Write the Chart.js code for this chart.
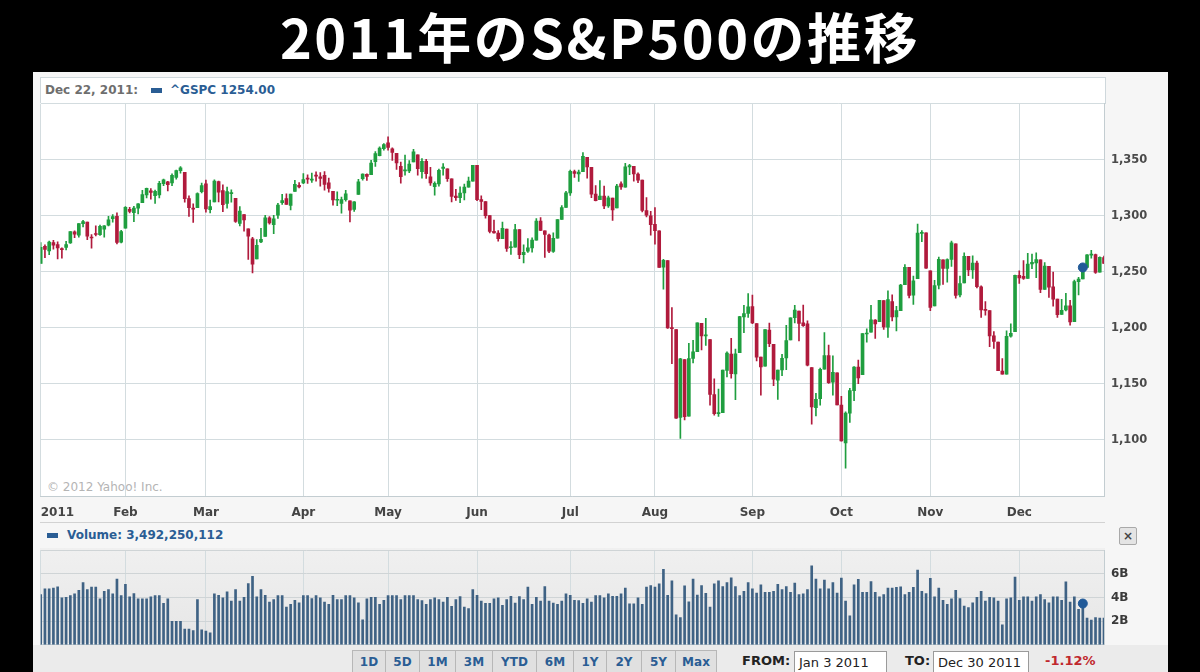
<!DOCTYPE html>
<html>
<head>
<meta charset="utf-8">
<script src="https://cdn.jsdelivr.net/npm/chart.js@4.4.0/dist/chart.umd.min.js"></script>
<style>
  html, body { margin: 0; padding: 0; background: #000; }
  body { width: 1200px; height: 672px; position: relative; overflow: hidden; font-family: "DejaVu Sans", sans-serif; }
  .abs { position: absolute; }
  #title { left: 0; top: 4px; width: 1200px; text-align: center; color: #fff; font-family: "Noto Sans CJK JP", sans-serif; font-weight: 700; font-size: 54px; letter-spacing: 2.5px; line-height: 64px; }
  #panel { left: 33px; top: 72px; width: 1135px; height: 600px; background: #f6f6f6; }
  #head { left: 40px; top: 77px; width: 1064px; height: 26px; background: #fff; border: 1px solid #cfd8dc; border-bottom: none; }
  #plotbg { left: 40px; top: 103px; width: 1065px; height: 394px; background: #fff; }
  #volbg { left: 40px; top: 548px; width: 1065px; height: 95px; background: linear-gradient(#f0f0f0, #e6e6e6); }
  .lbl { font-size: 12px; font-weight: bold; white-space: nowrap; }
  .key { width: 11px; height: 5px; background: #2a5d94; }
  #sep { left: 40px; top: 522px; width: 1065px; height: 1px; background: #d2d2d2; }
  #close { left: 1119px; top: 527px; width: 16px; height: 16px; border: 1px solid #a9a9a9; border-radius: 2px; background: #e4e4e4; color: #444; font-size: 12px; line-height: 16px; text-align: center; font-weight: bold; }
  #bar { left: 33px; top: 645px; width: 1135px; height: 27px; background: #ebebeb; }
  .btn { top: 650px; height: 24px; background: #e0e0e0; border: 1px solid #b7b7b7; box-sizing: border-box; color: #2a5d94; font-size: 12px; font-weight: bold; text-align: center; line-height: 22px; }
  .box { top: 651px; height: 24px; border: 1px solid #9a9a9a; background: #fff; box-sizing: border-box; font-size: 13px; color: #222; padding-left: 4px; line-height: 21px; }
</style>
</head>
<body>
<div id="title" class="abs">2011年のS&amp;P500の推移</div>
<div id="panel" class="abs"></div>
<div id="head" class="abs"></div>
<div id="plotbg" class="abs"></div>
<div id="volbg" class="abs"></div>
<div class="abs lbl" style="left:45px;top:83px;color:#6e6e6e;">Dec 22, 2011:</div>
<div class="abs key" style="left:151px;top:88px;"></div>
<div class="abs lbl" style="left:170px;top:83px;color:#2a5d94;">^GSPC 1254.00</div>
<div class="abs" style="left:47px;top:480px;font-size:12px;color:#b4b4b4;">© 2012 Yahoo! Inc.</div>
<div id="sep" class="abs"></div>
<div class="abs key" style="left:47px;top:533px;"></div>
<div class="abs lbl" style="left:67px;top:528px;color:#2a5d94;">Volume: 3,492,250,112</div>
<div id="close" class="abs">×</div>
<div id="bar" class="abs"></div>
<div class="abs btn" style="left:352px;width:34px;">1D</div>
<div class="abs btn" style="left:385px;width:35px;">5D</div>
<div class="abs btn" style="left:419px;width:37px;">1M</div>
<div class="abs btn" style="left:455px;width:38px;">3M</div>
<div class="abs btn" style="left:492px;width:45px;">YTD</div>
<div class="abs btn" style="left:536px;width:38px;">6M</div>
<div class="abs btn" style="left:573px;width:34px;">1Y</div>
<div class="abs btn" style="left:606px;width:36px;">2Y</div>
<div class="abs btn" style="left:641px;width:35px;">5Y</div>
<div class="abs btn" style="left:675px;width:42px;">Max</div>
<div class="abs" style="left:742px;top:653px;font-size:13px;font-weight:bold;color:#222;">FROM:</div>
<div class="abs box" style="left:794px;width:93px;">Jan 3 2011</div>
<div class="abs" style="left:905px;top:653px;font-size:13px;font-weight:bold;color:#222;">TO:</div>
<div class="abs box" style="left:933px;width:96px;">Dec 30 2011</div>
<div class="abs" style="left:1045px;top:653px;font-size:13px;font-weight:bold;color:#c0282d;">-1.12%</div>

<canvas id="mainChart" class="abs" width="1140" height="434" style="left:30px;top:90px;"></canvas>
<canvas id="volChart" class="abs" width="1140" height="123" style="left:30px;top:536px;"></canvas>

<script>
// trading days of 2011, one list per month
const monthNames = ['Jan','Feb','Mar','Apr','May','Jun','Jul','Aug','Sep','Oct','Nov','Dec'];
const monthTicks = ['2011','Feb','Mar','Apr','May','Jun','Jul','Aug','Sep','Oct','Nov','Dec'];
const tradingDays = [
    [3,4,5,6,7,10,11,12,13,14,18,19,20,21,24,25,26,27,28,31],
    [1,2,3,4,7,8,9,10,11,14,15,16,17,18,22,23,24,25,28],
    [1,2,3,4,7,8,9,10,11,14,15,16,17,18,21,22,23,24,25,28,29,30,31],
    [1,4,5,6,7,8,11,12,13,14,15,18,19,20,21,25,26,27,28,29],
    [2,3,4,5,6,9,10,11,12,13,16,17,18,19,20,23,24,25,26,27,31],
    [1,2,3,6,7,8,9,10,13,14,15,16,17,20,21,22,23,24,27,28,29,30],
    [1,5,6,7,8,11,12,13,14,15,18,19,20,21,22,25,26,27,28,29],
    [1,2,3,4,5,8,9,10,11,12,15,16,17,18,19,22,23,24,25,26,29,30,31],
    [1,2,6,7,8,9,12,13,14,15,16,19,20,21,22,23,26,27,28,29,30],
    [3,4,5,6,7,10,11,12,13,14,17,18,19,20,21,24,25,26,27,28,31],
    [1,2,3,4,7,8,9,10,11,14,15,16,17,18,21,22,23,25,28,29,30],
    [1,2,5,6,7,8,9,12,13,14,15,16,19,20,21,22,23,27,28,29,30]
];

const priceOpen = [
    1257.6,1272.9,1268.8,1276.3,1274.4,1270.8,1272.0,1276.0,1285.8,1282.9,
    1293.2,1294.5,1280.9,1283.6,1283.3,1288.2,1291.7,1297.5,1299.6,1276.5,
    1289.1,1305.9,1302.8,1307.0,1311.9,1318.8,1322.5,1318.1,1318.7,1328.7,
    1330.4,1329.5,1334.4,1340.4,1338.9,1315.4,1307.1,1307.3,1321.6,
    1328.6,1305.5,1312.4,1330.7,1322.7,1311.1,1319.9,1315.7,1293.4,1301.2,
    1288.5,1279.5,1261.6,1276.7,1281.7,1298.3,1292.2,1300.6,1311.8,1315.5,
    1309.4,1321.9,1327.4,
    1329.5,1333.6,1332.0,1335.9,1334.8,1336.2,1329.6,1321.9,1314.0,1311.1,
    1314.5,1313.4,1305.9,1319.1,1333.2,1337.1,1336.8,1348.4,1353.9,1360.1,
    1365.2,1359.8,1355.9,1344.2,1340.2,1340.2,1348.3,1354.5,1339.4,1348.7,
    1334.8,1326.1,1328.5,1342.4,1342.0,1333.1,1317.7,1316.4,1320.6,1325.7,
    1331.1,
    1345.2,1314.6,1312.9,1300.3,1286.3,1284.6,1279.6,1288.3,1271.6,1272.2,
    1287.9,1265.5,1268.6,1271.5,1278.4,1295.5,1286.6,1283.0,1268.4,1280.2,
    1296.8,1307.6,
    1320.6,1339.6,1337.6,1339.6,1352.4,1343.3,1319.6,1314.5,1317.7,1308.9,
    1315.9,1307.1,1328.7,1325.7,1343.8,1344.3,1337.4,1331.9,1304.8,1300.1,
    1292.6,1286.6,1254.3,1260.2,1200.3,1198.5,1120.2,1171.8,1121.3,1172.9,
    1178.9,1204.2,1192.9,1189.6,1140.5,1123.6,1124.4,1162.2,1176.7,1158.9,
    1177.9,1209.8,1213.0,
    1219.1,1203.9,1174.0,1165.9,1198.0,1185.4,1153.5,1162.6,1173.3,1189.4,
    1209.2,1215.0,1204.5,1203.6,1164.6,1128.8,1136.9,1163.3,1175.4,1151.7,
    1159.9,
    1131.2,1097.4,1124.0,1144.1,1165.0,1158.2,1194.6,1196.2,1207.0,1205.7,
    1224.5,1200.8,1223.5,1209.9,1215.4,1238.7,1254.2,1229.2,1244.0,1284.4,
    1285.0,
    1251.0,1219.6,1238.3,1260.8,1253.2,1261.1,1275.2,1229.6,1240.1,1263.9,
    1251.7,1257.8,1236.6,1216.2,1215.6,1193.0,1187.5,1161.4,1158.7,1192.6,
    1196.7,
    1246.9,1246.0,1244.3,1257.2,1258.1,1260.9,1234.5,1255.1,1236.8,1225.7,
    1212.1,1216.1,1219.7,1205.7,1241.3,1243.7,1254.0,1265.0,1265.4,1249.8,
    1262.8
];

const priceHigh = [
    1276.2,1274.1,1277.6,1278.2,1276.8,1271.5,1277.3,1286.0,1286.7,1293.2,
    1296.1,1294.6,1283.4,1291.2,1291.9,1291.3,1299.7,1301.3,1302.7,1287.2,
    1308.4,1307.6,1308.6,1311.0,1322.9,1324.9,1324.5,1323.0,1330.8,1332.9,
    1330.8,1337.6,1341.0,1344.1,1338.9,1317.9,1310.9,1320.6,1329.4,
    1332.1,1314.2,1332.3,1331.1,1327.7,1325.7,1323.2,1315.7,1308.4,1301.2,
    1288.5,1280.9,1278.9,1288.9,1300.6,1299.4,1300.5,1311.3,1319.2,1319.7,
    1319.4,1331.7,1329.8,
    1337.9,1336.7,1338.2,1339.4,1338.8,1339.5,1333.8,1321.9,1321.4,1316.8,
    1322.9,1313.4,1312.7,1332.7,1337.5,1337.6,1349.6,1357.5,1361.7,1364.6,
    1370.6,1360.8,1355.9,1348.0,1354.4,1349.4,1359.4,1354.5,1351.1,1350.5,
    1343.3,1330.4,1341.8,1346.8,1342.0,1333.1,1323.7,1325.9,1328.5,1334.6,
    1345.2,
    1345.2,1318.0,1312.9,1300.3,1296.2,1287.0,1294.5,1288.3,1277.0,1292.5,
    1287.9,1274.1,1279.8,1280.4,1297.6,1298.6,1286.6,1283.9,1284.9,1296.8,
    1309.2,1322.0,
    1341.0,1340.9,1340.9,1356.5,1352.4,1343.3,1327.2,1331.5,1326.7,1317.7,
    1315.9,1328.1,1330.4,1347.0,1346.1,1344.3,1338.5,1331.9,1316.3,1304.0,
    1307.4,1286.6,1261.2,1260.2,1218.1,1198.5,1172.9,1171.8,1186.3,1189.0,
    1204.5,1204.2,1208.5,1189.6,1154.5,1145.5,1162.4,1178.6,1190.7,1181.2,
    1210.3,1220.1,1230.7,
    1229.3,1203.9,1174.0,1198.6,1204.4,1185.4,1162.5,1176.4,1202.4,1209.1,
    1220.1,1215.0,1220.4,1206.3,1164.6,1141.7,1164.2,1195.9,1184.7,1175.1,
    1159.9,
    1139.0,1125.1,1146.1,1165.6,1171.4,1194.9,1199.2,1220.3,1207.5,1224.6,
    1224.5,1233.1,1229.6,1219.4,1239.0,1256.6,1254.2,1246.3,1292.7,1287.0,
    1285.0,
    1251.0,1242.5,1263.2,1260.8,1261.7,1277.6,1275.2,1246.2,1267.0,1263.9,
    1264.3,1259.6,1237.7,1223.5,1215.6,1196.8,1187.5,1172.7,1197.4,1203.7,
    1247.1,
    1251.1,1260.1,1266.7,1266.0,1267.1,1260.9,1258.3,1255.1,1249.9,1225.7,
    1225.6,1231.0,1224.6,1242.8,1245.1,1255.2,1265.4,1269.4,1265.9,1263.5,
    1264.1
];

const priceLow = [
    1257.6,1262.7,1265.4,1270.4,1261.7,1262.2,1269.6,1275.4,1280.5,1281.1,
    1290.2,1278.9,1271.3,1282.1,1282.5,1281.1,1291.0,1294.4,1275.1,1276.0,
    1289.1,1302.6,1294.8,1301.7,1311.9,1316.0,1314.9,1311.1,1316.1,1326.9,
    1322.3,1326.9,1332.9,1338.1,1312.3,1299.6,1294.3,1307.3,1320.6,
    1303.4,1302.6,1312.4,1312.6,1303.9,1306.9,1312.3,1294.2,1291.0,1286.4,
    1261.1,1249.1,1261.6,1276.2,1281.7,1292.7,1284.1,1297.7,1310.2,1310.2,
    1305.3,1321.9,1325.0,
    1328.9,1329.1,1330.0,1331.1,1326.6,1322.9,1321.1,1309.5,1309.2,1302.4,
    1313.1,1294.7,1304.0,1319.1,1332.0,1331.7,1336.8,1344.3,1353.6,1358.7,
    1358.6,1349.5,1341.5,1329.2,1336.4,1338.6,1348.3,1336.4,1333.6,1333.4,
    1327.3,1318.5,1326.6,1336.4,1330.7,1312.6,1313.9,1311.8,1314.4,1325.7,
    1331.1,
    1313.7,1305.6,1297.9,1284.9,1284.7,1277.4,1279.6,1268.3,1265.6,1272.2,
    1261.9,1258.1,1267.4,1267.6,1278.4,1286.8,1262.9,1267.2,1267.5,1280.2,
    1296.8,1307.6,
    1318.2,1334.3,1330.9,1339.6,1333.7,1316.4,1313.3,1314.5,1306.5,1307.5,
    1295.9,1307.1,1323.7,1325.7,1336.9,1331.1,1329.6,1303.5,1299.2,1282.9,
    1274.7,1254.0,1234.6,1199.5,1168.1,1119.3,1101.5,1118.0,1121.3,1168.7,
    1178.9,1180.5,1184.5,1131.0,1122.1,1121.1,1124.4,1156.3,1155.1,1135.9,
    1177.9,1195.8,1209.4,
    1203.9,1170.6,1140.1,1165.9,1183.3,1148.4,1136.1,1157.4,1162.7,1189.4,
    1204.5,1188.4,1201.3,1166.2,1114.2,1121.4,1131.1,1163.3,1150.4,1139.9,
    1131.3,
    1098.9,1074.8,1115.7,1135.0,1150.3,1158.2,1187.3,1196.2,1190.6,1205.7,
    1198.6,1191.5,1206.3,1197.3,1215.4,1238.7,1226.8,1221.1,1244.0,1277.0,
    1253.2,
    1215.4,1219.6,1234.8,1238.9,1240.8,1255.0,1226.6,1227.7,1240.1,1246.7,
    1244.3,1235.7,1209.4,1211.4,1183.2,1181.7,1161.8,1158.7,1158.7,1191.8,
    1196.7,
    1239.7,1243.4,1244.3,1253.0,1244.8,1231.5,1234.5,1227.3,1219.4,1209.5,
    1212.1,1215.2,1202.4,1205.7,1229.5,1243.7,1254.0,1262.3,1248.6,1249.8,
    1257.5
];

const priceClose = [
    1271.9,1270.2,1276.6,1273.9,1271.5,1269.8,1274.5,1286.0,1283.8,1293.2,
    1295.0,1281.9,1280.3,1283.4,1290.8,1291.2,1296.6,1299.5,1276.3,1286.1,
    1307.6,1304.0,1307.1,1310.9,1319.1,1324.6,1320.9,1321.9,1329.2,1332.3,
    1328.0,1336.3,1340.4,1343.0,1315.4,1307.4,1306.1,1319.9,1327.2,
    1306.3,1308.4,1331.0,1321.2,1310.1,1321.8,1320.0,1295.1,1304.3,1296.4,
    1281.9,1256.9,1273.7,1279.2,1298.4,1293.8,1297.5,1309.7,1313.8,1310.2,
    1319.4,1328.3,1325.8,
    1332.4,1332.9,1332.6,1335.5,1333.5,1328.2,1324.5,1314.2,1314.4,1314.5,
    1319.7,1305.1,1312.6,1330.4,1337.4,1335.3,1347.2,1355.7,1360.5,1363.6,
    1361.2,1356.6,1347.3,1335.1,1340.2,1346.3,1357.2,1342.1,1348.7,1337.8,
    1329.5,1329.0,1340.7,1343.6,1333.3,1317.4,1316.3,1320.5,1325.7,1331.1,
    1345.2,
    1314.6,1312.9,1300.2,1286.2,1284.9,1279.6,1289.0,1271.0,1271.8,1287.9,
    1265.4,1267.6,1271.5,1278.4,1295.5,1287.1,1283.5,1268.5,1280.1,1296.7,
    1307.4,1320.6,
    1339.7,1337.9,1339.2,1353.2,1343.8,1319.5,1313.6,1317.7,1308.9,1316.1,
    1305.4,1326.7,1325.8,1343.8,1345.0,1337.4,1331.9,1304.9,1300.7,1292.3,
    1286.9,1254.1,1260.3,1200.1,1199.4,1119.5,1172.5,1120.8,1172.6,1178.8,
    1204.5,1192.8,1193.9,1140.7,1123.5,1123.8,1162.4,1177.6,1159.3,1176.8,
    1210.1,1212.9,1218.9,
    1204.4,1174.0,1165.2,1198.6,1185.9,1154.2,1162.3,1172.9,1188.7,1209.1,
    1216.0,1204.1,1202.1,1166.8,1129.6,1136.4,1163.0,1175.4,1151.1,1160.4,
    1131.4,
    1099.2,1124.0,1144.0,1165.0,1155.5,1194.9,1195.5,1207.3,1203.7,1224.6,
    1200.9,1225.4,1209.9,1215.4,1238.3,1254.2,1229.1,1242.0,1284.6,1285.1,
    1253.3,
    1218.3,1237.9,1261.2,1253.2,1261.1,1275.9,1229.1,1239.7,1263.9,1251.8,
    1257.8,1236.9,1216.1,1215.7,1193.0,1188.0,1161.8,1158.7,1192.6,1195.2,
    1247.0,
    1244.6,1244.3,1257.1,1258.5,1261.0,1234.4,1255.2,1236.5,1225.7,1211.8,
    1215.8,1219.7,1205.4,1241.3,1243.7,1254.0,1265.3,1265.4,1249.6,1263.0,
    1257.6
];

// daily volume, billions of shares
const volume = [
    4.24,4.74,4.74,4.79,4.90,3.97,4.02,4.16,4.30,4.60,
    5.26,4.68,4.88,4.88,3.88,4.52,4.68,4.30,5.56,4.16,
    5.12,4.05,4.33,3.88,3.88,3.88,4.05,4.16,4.16,3.50,
    3.88,1.98,1.98,1.98,1.32,1.32,1.21,3.83,1.27,1.16,
    1.02,4.30,4.19,3.97,4.49,3.69,4.68,3.69,4.02,5.18,
    5.79,4.05,4.66,4.19,3.61,3.83,4.16,4.16,3.20,3.42,
    3.77,3.55,4.16,4.16,3.91,4.16,3.97,3.61,3.42,4.19,
    3.83,3.83,4.16,4.16,3.97,3.55,2.12,3.88,4.02,4.02,
    3.42,3.77,4.16,4.16,4.16,3.83,4.16,4.16,4.16,3.83,
    3.75,3.42,3.83,3.97,3.83,3.61,4.02,3.25,3.83,4.08,
    3.20,3.06,4.68,4.19,3.69,3.50,3.50,3.88,3.97,3.33,
    3.83,4.10,3.53,4.08,3.83,4.88,3.42,4.02,3.69,4.93,
    3.69,3.53,3.42,3.69,4.30,4.19,3.77,3.75,3.50,3.88,
    3.61,4.16,4.16,3.97,4.30,4.10,4.10,4.30,4.79,3.47,
    3.47,3.97,3.42,4.88,5.01,4.88,5.15,6.39,4.19,5.40,
    2.53,2.31,4.99,3.64,5.56,4.21,5.01,4.35,3.20,5.15,
    5.40,4.93,5.26,5.67,4.93,4.16,4.52,5.26,4.74,4.38,
    5.07,4.44,4.44,4.52,5.12,4.66,4.93,4.44,5.21,4.24,
    4.30,4.66,6.67,5.56,4.74,5.48,4.74,5.26,4.38,5.65,
    3.69,2.45,5.07,5.54,4.44,4.44,5.34,4.44,4.05,4.24,
    4.79,4.79,4.85,4.90,4.24,4.44,4.85,6.31,4.52,4.33,
    5.62,4.05,4.79,3.77,3.42,3.88,4.60,3.91,3.28,3.14,
    3.55,4.02,4.52,3.69,4.02,3.97,3.69,1.68,3.88,3.97,
    5.73,3.77,4.05,4.05,3.69,4.05,4.24,3.83,3.55,4.05,
    4.05,3.77,5.32,3.61,4.05,3.00,3.49,2.26,2.09,2.31,
    2.26,2.26
];

const markIndex = 246; // Dec 22, 2011

const upColor = '#1f9e3f';
const downColor = '#b01a3c';
const gridColor = '#d3dcdf';
const borderColor = '#c3cdd1';
const tickFont = { family: 'DejaVu Sans', weight: 'bold', size: 12 };

const labels = [];
const tickText = [];
tradingDays.forEach(function(days, m) {
    days.forEach(function(d, k) {
        labels.push(monthNames[m] + ' ' + d);
        tickText.push(k === 0 ? monthTicks[m] : '');
    });
});

const candleColors = priceClose.map(function(c, i) {
    return c >= priceOpen[i] ? upColor : downColor;
});

function monthGrid(context) {
    return tickText[context.index] ? gridColor : 'rgba(0,0,0,0)';
}

new Chart(document.getElementById('mainChart'), {
    type: 'bar',
    data: {
        labels: labels,
        datasets: [{
            type: 'line',
            data: priceClose.map(function(c, i) { return i === markIndex ? c : null; }),
            showLine: false,
            pointRadius: 4.5,
            pointBackgroundColor: '#225a98',
            pointBorderColor: '#225a98',
            order: 0
        }, {
            data: priceOpen.map(function(o, i) { return [o, priceClose[i]]; }),
            backgroundColor: candleColors,
            barThickness: 3,
            minBarLength: 1,
            grouped: false,
            order: 1
        }, {
            data: priceLow.map(function(l, i) { return [l, priceHigh[i]]; }),
            backgroundColor: candleColors,
            barThickness: 1,
            grouped: false,
            order: 2
        }]
    },
    options: {
        responsive: false,
        animation: false,
        layout: { padding: { left: 10.7, top: 8, right: 0, bottom: 0 } },
        plugins: { legend: { display: false }, tooltip: { enabled: false } },
        scales: {
            x: {
                offset: false,
                grid: { offset: false, color: monthGrid, drawTicks: false },
                border: { display: true, color: borderColor },
                ticks: {
                    autoSkip: false,
                    maxRotation: 0,
                    align: 'inner',
                    padding: 10,
                    color: '#444',
                    font: tickFont,
                    callback: function(v, i) { return tickText[i]; }
                },
                afterFit: function(scale) { scale.height = 28; }
            },
            y: {
                position: 'right',
                min: 1050,
                max: 1400,
                grid: { color: gridColor, drawTicks: false },
                border: { display: true, color: borderColor },
                ticks: {
                    stepSize: 50,
                    padding: 7,
                    color: '#4a4a4a',
                    font: { family: 'DejaVu Sans', weight: 'bold', size: 11.5 },
                    callback: function(v) {
                        return (v === 1050 || v === 1400) ? '' : v.toLocaleString('en-US');
                    }
                },
                afterFit: function(scale) { scale.width = 66; }
            }
        }
    }
});

new Chart(document.getElementById('volChart'), {
    type: 'bar',
    data: {
        labels: labels,
        datasets: [{
            type: 'line',
            data: volume.map(function(v, i) { return i === markIndex ? v : null; }),
            showLine: false,
            pointRadius: 4.5,
            pointBackgroundColor: '#225a98',
            pointBorderColor: '#225a98',
            order: 0
        }, {
            data: volume,
            backgroundColor: '#3f6284',
            barThickness: 2,
            order: 1
        }]
    },
    options: {
        responsive: false,
        animation: false,
        layout: { padding: { left: 10.7, top: 8, right: 0, bottom: 1 } },
        plugins: { legend: { display: false }, tooltip: { enabled: false } },
        scales: {
            x: {
                offset: false,
                grid: { offset: false, color: monthGrid, drawTicks: false },
                border: { display: true, color: borderColor },
                ticks: { display: false, autoSkip: false },
                afterFit: function(scale) { scale.height = 0; }
            },
            y: {
                position: 'right',
                min: 0,
                max: 8,
                grid: { color: '#cfd4d6', drawTicks: false },
                border: { display: true, color: borderColor },
                ticks: {
                    stepSize: 2,
                    padding: 7,
                    color: '#3a3a3a',
                    font: tickFont,
                    callback: function(v) { return (v === 0 || v === 8) ? '' : v + 'B'; }
                },
                afterFit: function(scale) { scale.width = 66; }
            }
        }
    }
});
</script>
</body>
</html>
